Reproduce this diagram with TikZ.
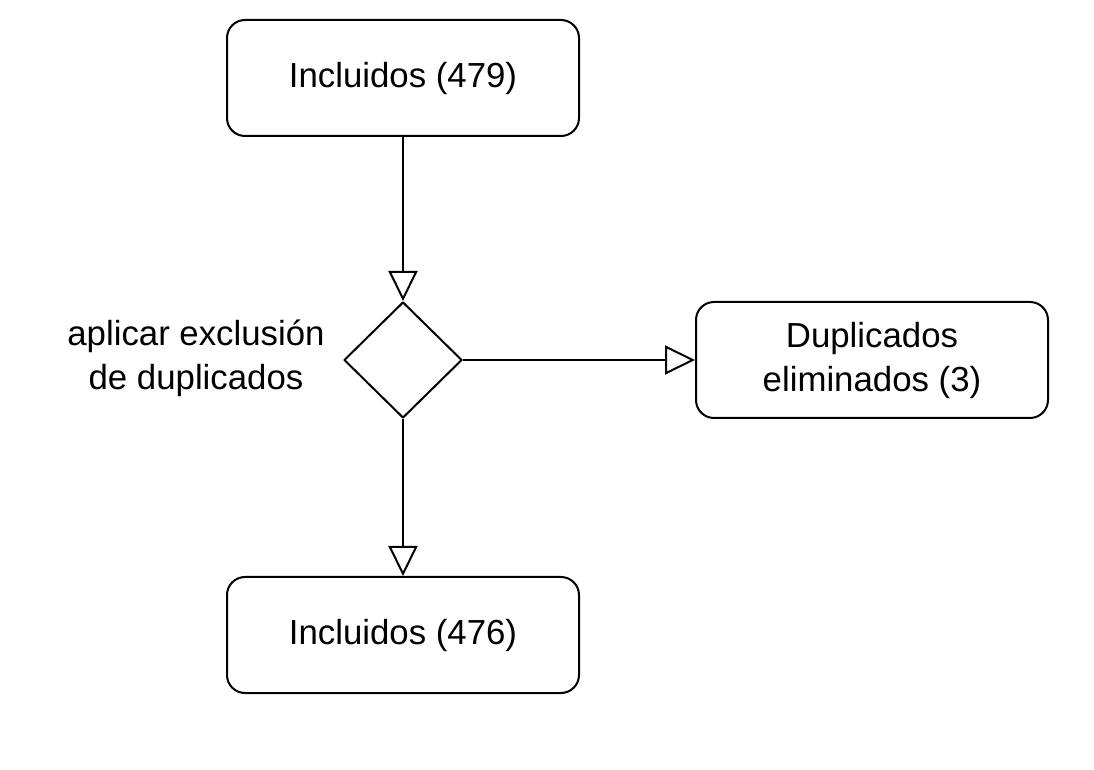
\documentclass[tikz,border=0pt]{standalone}
\usepackage{fontspec}
\setmainfont{Liberation Sans}
\usetikzlibrary{shapes.geometric,arrows.meta}

\tikzset{
  stagebox/.style={draw, line width=1pt, rounded corners=9pt, minimum width=176pt,
    minimum height=58pt, inner sep=0pt, align=center, font=\fontsize{17.4}{22}\selectfont},
  choice/.style={draw, diamond, line width=1pt, minimum width=59pt, minimum height=58pt,
    inner sep=0pt, aspect=1},
  flow/.style={line width=1pt, -{Triangle[open, length=15pt, width=14.5pt, line width=1pt]}},
  plain/.style={align=center, font=\fontsize{17.4}{22}\selectfont}
}

\begin{document}
\begin{tikzpicture}[x=0.5pt, y=-0.5pt, line join = round]
\useasboundingbox (0,0) rectangle (1094,770);

% stages
\node[stagebox] (inc) at (403,78) {Incluidos (479)};
\node[choice] (dup) at (403,360) {};
\node[stagebox] (del) at (872,360) {Duplicados\\eliminados (3)};
\node[stagebox] (res) at (403,635) {Incluidos (476)};

% decision label
\node[plain] (dlabel) at (196,358) {aplicar exclusión\\de duplicados};

% flow
\draw[flow] (inc) -- (dup);
\draw[flow] (dup) -- (del);
\draw[flow] (dup) -- (res);

\end{tikzpicture}
\end{document}
